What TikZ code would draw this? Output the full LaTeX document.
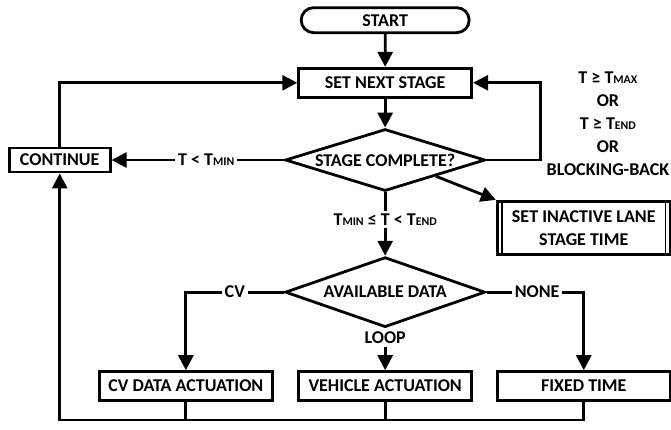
\documentclass[tikz,border=0pt]{standalone}
\usepackage{fontspec}
\setmainfont{Carlito}
\usetikzlibrary{arrows.meta,shapes.geometric,shapes.misc}

\newcommand{\subtxt}[1]{{\fontsize{11.8}{12}\selectfont #1}}

\tikzset{
  flow/.style={line width=2.8pt, -{Triangle[length=15pt,width=15pt]}},
  plain/.style={line width=2.8pt},
  box/.style={draw, line width=2.8pt, rectangle, minimum width=173pt, minimum height=29pt, inner sep=2pt},
  terminal/.style={draw, line width=2.8pt, rounded rectangle, minimum width=172pt, minimum height=25pt, inner sep=2pt},
  decision/.style={draw, line width=2.8pt, diamond, aspect=3.3, inner sep=0pt, minimum width=200pt},
  subproc/.style={box, minimum height=53pt, align=center},
  cond/.style={fill=white, inner sep=3pt},
}

\begin{document}
\begin{tikzpicture}[x=1pt,y=1pt,font=\bfseries\fontsize{18}{23}\selectfont]
    \useasboundingbox (0,0) rectangle (671,-429);
    \coordinate (width) at (671,0);
    \coordinate (height) at (0,-429);

    \path (0,0) --
    coordinate[pos=0.089] (Continuexpos)
    coordinate[pos=0.277] (CVxpos)
    coordinate[pos=0.574] (Mainxpos)
    coordinate[pos=0.806] (Loopbackxpos)
    coordinate[pos=0.870] (Nonexpos)
    coordinate[pos=0.906] (Notexpos)
    (width);

    \path (0,0) --
    coordinate[pos=0.047] (Startypos)
    coordinate[pos=0.193] (Nextypos)
    coordinate[pos=0.288] (Noteypos)
    coordinate[pos=0.373] (Completeypos)
    coordinate[pos=0.531] (Inactiveypos)
    coordinate[pos=0.681] (Dataypos)
    coordinate[pos=0.900] (Actuationypos)
    coordinate[pos=0.979] (Returnypos)
    (height);

    \node[terminal] at (Mainxpos |- Startypos) (Start) {START};
    \node[box] at (Mainxpos |- Nextypos) (Next) {SET NEXT STAGE};
    \node[decision, minimum height=62pt] at (Mainxpos |- Completeypos) (Complete) {STAGE COMPLETE?};
    \node[box, minimum width=101pt, minimum height=24pt] at (Continuexpos |- Completeypos) (Cont) {CONTINUE};
    \node[subproc] at (Nonexpos |- Inactiveypos) (Inactive) {SET INACTIVE LANE\\STAGE TIME};
    \node[align=center] at (Notexpos |- Noteypos) (Note) {T ≥ T\subtxt{MAX}\\OR\\T ≥ T\subtxt{END}\\OR\\BLOCKING-BACK};
    \node[decision, minimum height=70pt] at (Mainxpos |- Dataypos) (Data) {AVAILABLE DATA};
    \node[box] at (CVxpos |- Actuationypos) (CVAct) {CV DATA ACTUATION};
    \node[box] at (Mainxpos |- Actuationypos) (VehAct) {VEHICLE ACTUATION};
    \node[box] at (Nonexpos |- Actuationypos) (Fixed) {FIXED TIME};

    % double side lines of the sub process
    \draw[line width=1.4pt] ([xshift=6pt]Inactive.north west) -- ([xshift=6pt]Inactive.south west);
    \draw[line width=1.4pt] ([xshift=-6pt]Inactive.north east) -- ([xshift=-6pt]Inactive.south east);

    \draw[flow] (Start) -- (Next);
    \draw[flow] (Next) -- (Complete);
    \draw[flow] (Complete.west) -- node[cond, pos=0.45] (Tmin) {T < T\subtxt{MIN}} (Cont.east);
    \draw[flow] (Cont.north) |- (Next.west);
    \draw[flow] (Complete.east) -- (Loopbackxpos |- Complete.east) |- (Next.east);
    \draw[flow] (Complete.south east) -- (Inactive.north west);
    \draw[flow] (Complete.south) -- node[cond, pos=0.43] (Tmid) {T\subtxt{MIN} ≤ T < T\subtxt{END}} (Data.north);
    \draw[flow] (Data.west) -| node[cond, pos=0.25] (CVlabel) {CV} (CVAct.north);
    \draw[flow] (Data.east) -| node[cond, pos=0.26] (Nonelabel) {NONE} (Fixed.north);
    \draw[flow] (Data.south) -- node[cond, pos=0.22] (Looplabel) {LOOP} (VehAct.north);
    % return to continue
    \draw[plain] (CVAct.south) -- (CVAct.south |- Returnypos);
    \draw[plain] (VehAct.south) -- (VehAct.south |- Returnypos);
    \draw[flow] (Fixed.south) |- (Continuexpos |- Returnypos) -- (Cont.south);
  \end{tikzpicture}
\end{document}
